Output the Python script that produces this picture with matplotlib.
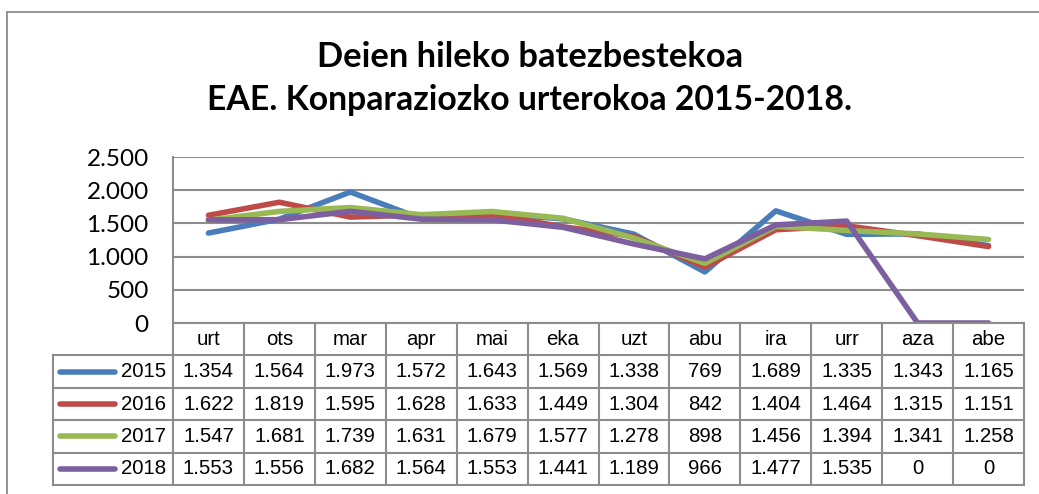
import matplotlib
matplotlib.use("Agg")
import matplotlib.pyplot as plt
from matplotlib.patches import Rectangle

# data
months = ["urt", "ots", "mar", "apr", "mai", "eka", "uzt", "abu", "ira", "urr", "aza", "abe"]
years = ["2015", "2016", "2017", "2018"]
v2015 = [1354, 1564, 1973, 1572, 1643, 1569, 1338, 769, 1689, 1335, 1343, 1165]
v2016 = [1622, 1819, 1595, 1628, 1633, 1449, 1304, 842, 1404, 1464, 1315, 1151]
v2017 = [1547, 1681, 1739, 1631, 1679, 1577, 1278, 898, 1456, 1394, 1341, 1258]
v2018 = [1553, 1556, 1682, 1564, 1553, 1441, 1189, 966, 1477, 1535, 0, 0]
yticks = [0, 500, 1000, 1500, 2000, 2500]

series = [v2015, v2016, v2017, v2018]
colors = ["#4A7EBB", "#BE4B48", "#98B954", "#7D5FA0"]
grid_col = "#8C8C8C"


def fmt(n):
    return f"{n:,}".replace(",", ".")


W, H = 1039, 494
fig = plt.figure(figsize=(W / 100, H / 100), dpi=100)

# outer chart border (right and bottom edges fall outside the image)
fig.patches.append(Rectangle((7 / W, -0.1), 1.2, (H - 12) / H + 0.1,
                             transform=fig.transFigure, fill=False,
                             edgecolor="#8A8A8A", linewidth=1.3))

fig.text(530 / W, 1 - 57 / H, "Deien hileko batezbestekoa", ha="center", va="center",
         fontsize=24.8, fontweight="bold", family="Lato")
fig.text(530 / W, 1 - 100 / H, "EAE. Konparaziozko urterokoa 2015-2018.", ha="center",
         va="center", fontsize=24.3, fontweight="bold", family="Lato")

# plot area
px_l, px_r, px_t, px_b = 173, 1024, 157, 323
ax = fig.add_axes([px_l / W, 1 - px_b / H, (px_r - px_l) / W, (px_b - px_t) / H])
x = list(range(len(months)))
for vals, c in zip(series, colors):
    ax.plot(x, vals, color=c, linewidth=4, solid_capstyle="round", solid_joinstyle="round")
ax.set_xlim(-0.5, len(months) - 0.5)
ax.set_ylim(0, 2500)
ax.set_yticks(yticks)
ax.set_yticklabels([fmt(t) for t in yticks], family="Lato", fontsize=17.5)
ax.tick_params(axis="y", length=0, pad=17.5)
ax.set_xticks([])
for t in yticks:
    ax.axhline(t, color=grid_col, linewidth=1.5, zorder=0)
for s in ["top", "right", "bottom"]:
    ax.spines[s].set_visible(False)
ax.spines["left"].set_color(grid_col)
ax.spines["left"].set_linewidth(1.5)
ax.patch.set_alpha(0)

# data table below the plot
col_w = (px_r - px_l) / len(months)
tb_l, tb_b = 53, 485
extra = (px_l - tb_l) / col_w
tx = fig.add_axes([tb_l / W, 1 - tb_b / H, (px_r - tb_l) / W, (tb_b - px_b) / H])
tx.set_xlim(-0.5 - extra, len(months) - 0.5)
tx.set_ylim(len(years) + 1, 0)
tx.axis("off")
lw = 1.5
left_edge = -0.5 - extra
right_edge = len(months) - 0.5
# horizontal lines
tx.plot([-0.5, right_edge], [0, 0], color=grid_col, lw=lw, clip_on=False)
for r in range(1, len(years) + 2):
    tx.plot([left_edge, right_edge], [r, r], color=grid_col, lw=lw, clip_on=False)
# vertical lines
for i in range(len(months) + 1):
    tx.plot([i - 0.5, i - 0.5], [0, len(years) + 1], color=grid_col, lw=lw, clip_on=False)
tx.plot([left_edge, left_edge], [1, len(years) + 1], color=grid_col, lw=lw, clip_on=False)

tfont = dict(family="Liberation Sans", fontsize=14.7, ha="center", va="center")
for i, m in enumerate(months):
    tx.text(i, 0.5, m, **tfont)
for r, (yr, vals, c) in enumerate(zip(years, series, colors)):
    yc = r + 1.5
    tx.plot([left_edge + 7 / col_w, left_edge + 62 / col_w], [yc, yc], color=c,
            lw=4, solid_capstyle="round", clip_on=False)
    tx.text(left_edge + 113 / col_w, yc, yr, family="Liberation Sans", fontsize=14.7,
            ha="right", va="center")
    for i, v in enumerate(vals):
        tx.text(i, yc, fmt(v), **tfont)

fig.savefig("out.png", dpi=100)
